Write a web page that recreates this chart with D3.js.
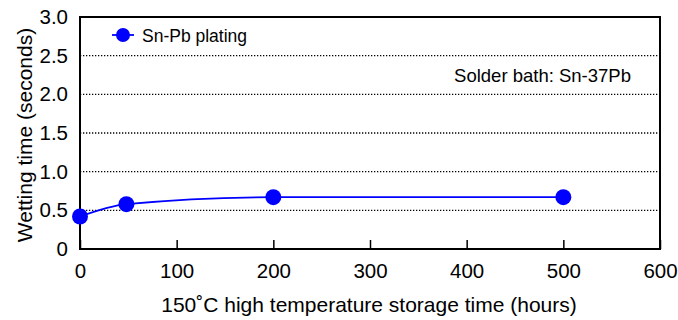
<!DOCTYPE html>
<html>
<head>
<meta charset="utf-8">
<script src="https://cdn.jsdelivr.net/npm/d3@7"></script>
<style>
  html, body { margin: 0; padding: 0; background: #fff; }
  svg { display: block; font-family: Arial, "Liberation Sans", sans-serif; }
</style>
</head>
<body>
<svg id="chart" width="678" height="320"></svg>
<script>
const hours = [0, 48, 200, 500];
const wettingTime = [0.42, 0.58, 0.67, 0.67];
const seriesName = "Sn-Pb plating";
const xTicks = [0, 100, 200, 300, 400, 500, 600];
const yTicks = [0, 0.5, 1.0, 1.5, 2.0, 2.5, 3.0];
const yTickLabels = ["0", "0.5", "1.0", "1.5", "2.0", "2.5", "3.0"];
const xTitle = "150˚C high temperature storage time (hours)";
const yTitle = "Wetting time (seconds)";
const note = "Solder bath: Sn-37Pb";

(function () {
const svg = d3.select("#chart");
const mL = 80, mR = 660, mT = 17, mB = 249;
const x = d3.scaleLinear().domain([0, 600]).range([mL, mR]);
const y = d3.scaleLinear().domain([0, 3]).range([mB, mT]);
const FF = "Arial, 'Liberation Sans', sans-serif";

// gridlines
svg.append("g").selectAll("line")
  .data(yTicks.filter(d => d > 0 && d < 3))
  .join("line")
  .attr("x1", mL).attr("x2", mR)
  .attr("y1", d => y(d)).attr("y2", d => y(d))
  .attr("stroke", "#000").attr("stroke-width", 1.3)
  .attr("stroke-dasharray", "1.3,1.7");

// x axis ticks (inward)
const xAxis = d3.axisBottom(x).tickValues(xTicks).tickSizeInner(-9).tickSizeOuter(0)
  .tickPadding(14).tickFormat(d3.format("d"));
const gx = svg.append("g").attr("transform", `translate(0,${mB})`).call(xAxis);
gx.select(".domain").remove();
gx.selectAll(".tick line").attr("stroke", "#000").attr("stroke-width", 1.5);
gx.selectAll(".tick text").attr("font-size", 20.5).attr("fill", "#000")
  .attr("font-family", FF);

// y axis labels
const yAxis = d3.axisLeft(y).tickValues(yTicks).tickSize(0).tickPadding(12)
  .tickFormat((d, i) => yTickLabels[i]);
const gy = svg.append("g").attr("transform", `translate(${mL},0)`).call(yAxis);
gy.select(".domain").remove();
gy.selectAll(".tick text").attr("font-size", 20.5).attr("fill", "#000")
  .attr("font-family", FF);

// frame
svg.append("rect").attr("x", mL).attr("y", mT)
  .attr("width", mR - mL).attr("height", mB - mT)
  .attr("fill", "none").attr("stroke", "#000").attr("stroke-width", 2);

// series line
const pts = hours.map((h, i) => [h, wettingTime[i]]);
const line = d3.line().x(d => x(d[0])).y(d => y(d[1])).curve(d3.curveMonotoneX);
svg.append("path").datum(pts).attr("d", line)
  .attr("fill", "none").attr("stroke", "#0000ff").attr("stroke-width", 1.8);
svg.append("g").selectAll("circle").data(pts).join("circle")
  .attr("cx", d => x(d[0])).attr("cy", d => y(d[1])).attr("r", 8)
  .attr("fill", "#0000ff");

// legend
const lg = svg.append("g");
lg.append("line").attr("x1", 112).attr("x2", 134).attr("y1", 35).attr("y2", 35)
  .attr("stroke", "#0000ff").attr("stroke-width", 1.8);
lg.append("circle").attr("cx", 123).attr("cy", 35).attr("r", 7).attr("fill", "#0000ff");
lg.append("text").attr("x", 142).attr("y", 42).attr("font-size", 17.5).text(seriesName);

// note
svg.append("text").attr("x", 631).attr("y", 82).attr("text-anchor", "end")
  .attr("font-size", 18.5).text(note);

// titles
svg.append("text").attr("x", 369).attr("y", 312).attr("text-anchor", "middle")
  .attr("font-size", 21).text(xTitle);
svg.append("text").attr("transform", "translate(32,135) rotate(-90)")
  .attr("text-anchor", "middle").attr("font-size", 21).text(yTitle);
})();
</script>
</body>
</html>
